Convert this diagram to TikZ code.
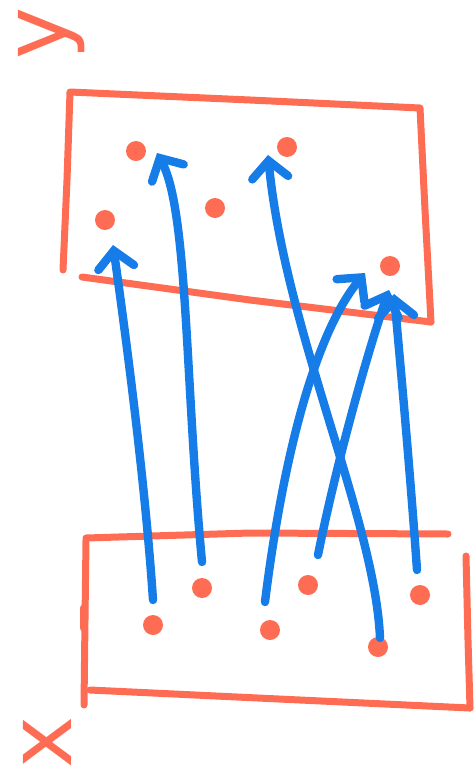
\documentclass[tikz,border=0pt]{standalone}
\usepackage{fontspec}
\setmainfont{DejaVu Sans}
\usetikzlibrary{arrows.meta,calc}
\definecolor{mred}{RGB}{255,108,84}
\definecolor{mblue}{RGB}{22,124,232}
\tikzset{
 box/.style={draw=mred,line width=3.5pt,line cap=round,line join=round},
 dot/.style={circle,fill=mred,inner sep=0pt,minimum size=10pt},
 link/.style={draw=mblue,line width=4.2pt,line cap=round,-{Straight Barb[length=8.5pt,width=18pt,line cap=round]}},
 lbl/.style={text=mred,font=\fontsize{44}{44}\selectfont,rotate=90,inner sep=0pt}
}
\begin{document}
\begin{tikzpicture}[x=0.5pt,y=-0.5pt]
\useasboundingbox (0,0) rectangle (474,777);
% labels
\node[lbl] (ylab) at (52,33) {y};
\node[lbl] (xlab) at (47,742) {x};
% top box (y)
\draw[box] (63,270) -- (67,180) -- (70,92) -- (250,100) -- (420,108) -- (425,210) -- (431,322);
\draw[box] (82,277) -- (250,300) -- (431,322);
% bottom box (x)
\draw[box] (86,538) -- (250,533) -- (448,534);
\draw[box] (86,540) -- (85,620) -- (84,705);
\draw[box] (83,608) -- (83,628);
\draw[box] (90,690) -- (300,700) -- (470,708);
\draw[box] (466,556) -- (468,640) -- (470,708);
% dots in y
\node[dot] (y1) at (136,151) {};
\node[dot] (y2) at (287,147) {};
\node[dot] (y3) at (215,208) {};
\node[dot] (y4) at (105,220) {};
\node[dot] (y5) at (390,266) {};
% dots in x
\node[dot] (x1) at (153,625) {};
\node[dot] (x2) at (202,588) {};
\node[dot] (x3) at (270,630) {};
\node[dot] (x4) at (308,585) {};
\node[dot] (x5) at (378,647) {};
\node[dot] (x6) at (420,595) {};
% arrows
\draw[link] ($(x1)+(0,-25)$) .. controls (145,480) and (125,330) .. ($(y4)+(8,25)$);
\draw[link] ($(x2)+(0,-26)$) .. controls (185,380) and (188,210) .. ($(y1)+(21,2)$);
\draw[link] ($(x3)+(-5,-28)$) .. controls (280,480) and (310,340) .. ($(y5)+(-25,7)$);
\draw[link] ($(x4)+(10,-30)$) .. controls (335,470) and (365,360) .. ($(y5)+(-1,24)$);
\draw[link] ($(x5)+(2,-9)$) .. controls (375,520) and (285,330) .. ($(y2)+(-19,8)$);
\draw[link] ($(x6)+(-3,-25)$) .. controls (410,470) and (400,360) .. ($(y5)+(4,28)$);
\end{tikzpicture}
\end{document}
